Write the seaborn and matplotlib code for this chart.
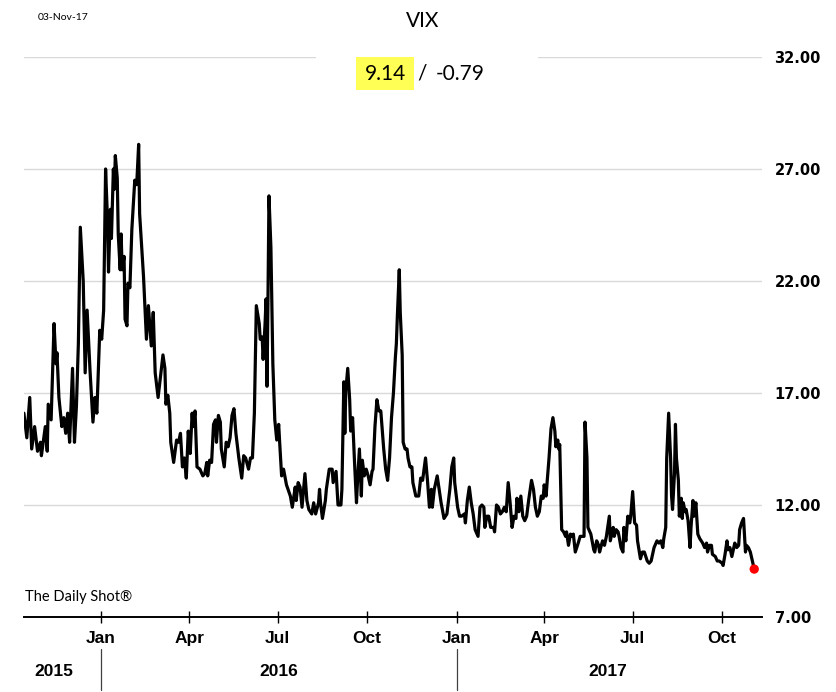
import matplotlib
matplotlib.use("Agg")
import matplotlib.pyplot as plt
import matplotlib.dates as mdates
import matplotlib.transforms as mtransforms
from matplotlib.patches import Rectangle
from matplotlib.ticker import FuncFormatter
import pandas as pd
import seaborn as sns

# ---------------- data ----------------
dates = [
    "2015-10-14", "2015-10-17", "2015-10-20", "2015-10-22", "2015-10-25", "2015-10-28", "2015-10-31", "2015-11-01",
    "2015-11-05", "2015-11-07", "2015-11-08", "2015-11-11", "2015-11-14", "2015-11-16", "2015-11-17", "2015-11-19",
    "2015-11-22", "2015-11-24", "2015-11-26", "2015-11-28", "2015-11-30", "2015-12-03", "2015-12-05", "2015-12-07",
    "2015-12-09", "2015-12-11", "2015-12-14", "2015-12-16", "2015-12-18", "2015-12-21", "2015-12-24", "2015-12-26",
    "2015-12-28", "2015-12-31", "2016-01-02", "2016-01-04", "2016-01-06", "2016-01-08", "2016-01-09", "2016-01-11",
    "2016-01-12", "2016-01-14", "2016-01-15", "2016-01-16", "2016-01-18", "2016-01-19", "2016-01-21", "2016-01-22",
    "2016-01-23", "2016-01-25", "2016-01-26", "2016-01-28", "2016-01-29", "2016-01-31", "2016-02-02", "2016-02-05",
    "2016-02-07", "2016-02-09", "2016-02-10", "2016-02-14", "2016-02-17", "2016-02-19", "2016-02-22", "2016-02-24",
    "2016-02-26", "2016-02-29", "2016-03-05", "2016-03-07", "2016-03-08", "2016-03-10", "2016-03-12", "2016-03-13",
    "2016-03-16", "2016-03-19", "2016-03-21", "2016-03-23", "2016-03-25", "2016-03-27", "2016-03-29", "2016-03-31",
    "2016-04-02", "2016-04-04", "2016-04-05", "2016-04-07", "2016-04-09", "2016-04-12", "2016-04-15", "2016-04-17",
    "2016-04-19", "2016-04-20", "2016-04-22", "2016-04-24", "2016-04-26", "2016-04-28", "2016-04-29", "2016-05-01",
    "2016-05-03", "2016-05-04", "2016-05-07", "2016-05-09", "2016-05-11", "2016-05-13", "2016-05-15", "2016-05-17",
    "2016-05-19", "2016-05-22", "2016-05-25", "2016-05-27", "2016-05-29", "2016-06-01", "2016-06-03", "2016-06-05",
    "2016-06-07", "2016-06-09", "2016-06-12", "2016-06-13", "2016-06-15", "2016-06-16", "2016-06-18", "2016-06-19",
    "2016-06-20", "2016-06-21", "2016-06-22", "2016-06-24", "2016-06-26", "2016-06-28", "2016-06-30", "2016-07-02",
    "2016-07-03", "2016-07-05", "2016-07-07", "2016-07-10", "2016-07-14", "2016-07-16", "2016-07-19", "2016-07-20",
    "2016-07-22", "2016-07-24", "2016-07-26", "2016-07-29", "2016-07-31", "2016-08-02", "2016-08-05", "2016-08-07",
    "2016-08-09", "2016-08-12", "2016-08-13", "2016-08-14", "2016-08-16", "2016-08-19", "2016-08-20", "2016-08-23",
    "2016-08-26", "2016-08-27", "2016-08-30", "2016-09-01", "2016-09-04", "2016-09-05", "2016-09-07", "2016-09-08",
    "2016-09-09", "2016-09-11", "2016-09-13", "2016-09-14", "2016-09-16", "2016-09-18", "2016-09-20", "2016-09-21",
    "2016-09-23", "2016-09-25", "2016-09-26", "2016-09-28", "2016-09-30", "2016-10-02", "2016-10-04", "2016-10-06",
    "2016-10-07", "2016-10-09", "2016-10-11", "2016-10-13", "2016-10-15", "2016-10-18", "2016-10-20", "2016-10-22",
    "2016-10-24", "2016-10-26", "2016-10-28", "2016-10-30", "2016-10-31", "2016-11-01", "2016-11-03", "2016-11-04",
    "2016-11-06", "2016-11-07", "2016-11-09", "2016-11-11", "2016-11-12", "2016-11-14", "2016-11-16", "2016-11-17",
    "2016-11-20", "2016-11-23", "2016-11-25", "2016-11-27", "2016-11-30", "2016-12-02", "2016-12-04", "2016-12-06",
    "2016-12-07", "2016-12-09", "2016-12-12", "2016-12-13", "2016-12-16", "2016-12-19", "2016-12-22", "2016-12-25",
    "2016-12-27", "2016-12-29", "2016-12-30", "2017-01-02", "2017-01-04", "2017-01-06", "2017-01-09", "2017-01-10",
    "2017-01-12", "2017-01-14", "2017-01-16", "2017-01-18", "2017-01-20", "2017-01-23", "2017-01-25", "2017-01-27",
    "2017-01-29", "2017-01-30", "2017-02-01", "2017-02-03", "2017-02-05", "2017-02-08", "2017-02-09", "2017-02-11",
    "2017-02-13", "2017-02-15", "2017-02-17", "2017-02-19", "2017-02-21", "2017-02-23", "2017-02-25", "2017-02-27",
    "2017-03-01", "2017-03-03", "2017-03-04", "2017-03-06", "2017-03-08", "2017-03-10", "2017-03-12", "2017-03-14",
    "2017-03-16", "2017-03-19", "2017-03-21", "2017-03-23", "2017-03-25", "2017-03-27", "2017-03-29", "2017-03-31",
    "2017-04-01", "2017-04-03", "2017-04-04", "2017-04-06", "2017-04-08", "2017-04-10", "2017-04-12", "2017-04-13",
    "2017-04-15", "2017-04-16", "2017-04-17", "2017-04-19", "2017-04-21", "2017-04-23", "2017-04-24", "2017-04-26",
    "2017-04-28", "2017-04-29", "2017-05-01", "2017-05-03", "2017-05-06", "2017-05-08", "2017-05-10", "2017-05-12",
    "2017-05-13", "2017-05-15", "2017-05-16", "2017-05-19", "2017-05-22", "2017-05-23", "2017-05-25", "2017-05-27",
    "2017-05-28", "2017-05-31", "2017-06-02", "2017-06-04", "2017-06-05", "2017-06-07", "2017-06-08", "2017-06-11",
    "2017-06-12", "2017-06-14", "2017-06-16", "2017-06-17", "2017-06-19", "2017-06-21", "2017-06-22", "2017-06-24",
    "2017-06-26", "2017-06-28", "2017-06-29", "2017-07-01", "2017-07-03", "2017-07-05", "2017-07-06", "2017-07-09",
    "2017-07-11", "2017-07-13", "2017-07-16", "2017-07-18", "2017-07-20", "2017-07-22", "2017-07-23", "2017-07-26",
    "2017-07-28", "2017-07-30", "2017-08-01", "2017-08-02", "2017-08-04", "2017-08-05", "2017-08-07", "2017-08-09",
    "2017-08-10", "2017-08-11", "2017-08-13", "2017-08-14", "2017-08-15", "2017-08-17", "2017-08-18", "2017-08-20",
    "2017-08-21", "2017-08-22", "2017-08-24", "2017-08-25", "2017-08-27", "2017-08-29", "2017-08-30", "2017-09-01",
    "2017-09-02", "2017-09-04", "2017-09-06", "2017-09-08", "2017-09-11", "2017-09-13", "2017-09-15", "2017-09-16",
    "2017-09-18", "2017-09-20", "2017-09-21", "2017-09-24", "2017-09-26", "2017-09-28", "2017-10-01", "2017-10-02",
    "2017-10-04", "2017-10-06", "2017-10-07", "2017-10-09", "2017-10-11", "2017-10-13", "2017-10-14", "2017-10-16",
    "2017-10-18", "2017-10-19", "2017-10-21", "2017-10-23", "2017-10-25", "2017-10-26", "2017-10-28", "2017-10-30",
    "2017-11-03",
]
vix = [
    16.1, 15.0, 16.8, 14.5, 15.5, 14.4, 14.8, 14.2,
    15.5, 14.4, 16.5, 15.8, 20.1, 18.3, 18.8, 16.8,
    15.5, 15.9, 15.2, 16.1, 14.8, 18.1, 14.8, 16.4,
    19.2, 24.4, 22.0, 17.9, 20.7, 18.0, 15.7, 16.8,
    16.1, 19.8, 19.4, 20.7, 27.0, 24.7, 22.4, 25.2,
    23.9, 27.0, 26.1, 27.6, 26.6, 24.1, 22.5, 24.1,
    22.5, 23.1, 20.3, 20.0, 21.9, 21.7, 24.3, 26.5,
    26.3, 28.1, 25.0, 22.2, 19.4, 20.9, 19.1, 20.6,
    17.9, 16.8, 18.7, 18.1, 16.5, 16.9, 16.1, 14.8,
    13.9, 14.9, 14.8, 15.2, 13.7, 14.1, 13.2, 15.3,
    14.3, 16.1, 15.5, 16.2, 13.7, 13.6, 13.3, 13.4,
    13.9, 13.3, 14.0, 13.9, 15.6, 15.8, 14.8, 16.0,
    15.7, 14.5, 13.7, 14.8, 14.6, 15.0, 16.0, 16.3,
    15.2, 14.1, 13.2, 14.2, 14.1, 13.6, 14.1, 14.1,
    16.1, 20.9, 20.1, 19.4, 19.5, 18.5, 20.1, 21.2,
    17.3, 21.3, 25.8, 23.5, 18.3, 15.8, 14.9, 15.6,
    14.8, 13.3, 13.6, 12.9, 12.4, 11.9, 12.8, 12.2,
    13.0, 12.8, 11.9, 13.4, 12.2, 11.8, 11.6, 12.1,
    11.6, 12.1, 12.7, 12.1, 11.4, 12.2, 12.7, 13.6,
    13.6, 13.0, 13.5, 12.0, 12.0, 12.7, 17.5, 15.2,
    17.1, 18.1, 16.7, 15.3, 15.9, 13.9, 12.1, 13.0,
    14.5, 12.4, 14.0, 13.3, 13.6, 13.3, 12.9, 13.5,
    13.6, 15.5, 16.7, 16.2, 16.2, 14.5, 13.6, 13.1,
    14.1, 15.9, 17.0, 18.6, 19.2, 20.4, 22.5, 20.6,
    18.7, 14.8, 14.5, 14.5, 14.1, 13.7, 13.7, 13.0,
    12.4, 12.4, 13.2, 13.1, 14.1, 13.1, 11.9, 12.7,
    11.9, 12.7, 13.3, 13.0, 12.1, 11.4, 11.6, 12.7,
    13.7, 14.1, 13.0, 11.9, 11.5, 11.5, 11.6, 11.2,
    12.2, 12.8, 12.1, 11.6, 10.9, 10.6, 11.9, 12.0,
    11.9, 11.0, 11.5, 11.5, 11.0, 11.0, 10.8, 12.0,
    11.9, 11.6, 11.7, 11.9, 11.7, 13.0, 12.1, 11.0,
    11.5, 11.4, 12.3, 11.7, 12.4, 11.5, 11.3, 11.5,
    12.2, 13.1, 12.7, 11.9, 11.5, 11.7, 12.4, 12.3,
    12.9, 12.4, 13.0, 14.1, 15.4, 15.9, 15.3, 14.6,
    14.9, 14.5, 14.7, 10.9, 10.8, 10.6, 10.8, 10.2,
    10.7, 10.6, 10.7, 9.9, 10.3, 10.6, 10.6, 10.6,
    15.7, 14.1, 11.0, 10.7, 10.0, 9.9, 10.4, 10.2,
    9.9, 10.4, 10.2, 10.6, 10.9, 11.5, 10.4, 11.0,
    10.6, 10.9, 10.8, 10.6, 10.1, 9.9, 11.0, 10.4,
    11.5, 11.2, 11.5, 12.6, 11.2, 11.1, 10.4, 9.6,
    9.9, 9.9, 9.5, 9.4, 9.5, 9.9, 10.1, 10.4,
    10.3, 10.4, 10.1, 10.5, 11.0, 14.1, 16.1, 14.1,
    12.4, 11.8, 13.4, 15.6, 14.1, 13.1, 11.5, 12.3,
    11.4, 12.1, 11.7, 11.8, 11.3, 10.1, 11.0, 12.2,
    11.5, 12.1, 10.7, 10.5, 10.3, 10.1, 10.3, 9.9,
    10.2, 10.2, 9.8, 9.7, 9.5, 9.5, 9.4, 9.3,
    9.8, 10.4, 10.0, 10.1, 9.7, 10.1, 10.3, 10.1,
    10.2, 10.9, 11.2, 11.4, 9.9, 10.2, 10.1, 9.9,
    9.14,
]
y_ticks = [7, 12, 17, 22, 27, 32]
tick_months = [1, 4, 7, 10]
year_labels = ["2015", "2016", "2017"]
last_value = "9.14"
last_change = "-0.79"
title_text = "VIX"
date_text = "03-Nov-17"
source_text = "The Daily Shot\u00ae"

df = pd.DataFrame({"date": pd.to_datetime(dates), "VIX": vix})

# ---------------- styling ----------------
sns.set_theme(style="white")
plt.rcParams["font.family"] = ["DejaVu Sans"]
NARROW = ["Liberation Sans Narrow", "Liberation Sans", "DejaVu Sans"]
LABEL_FONT = ["Lato", "DejaVu Sans"]

W, H = 836, 692
fig = plt.figure(figsize=(W / 100, H / 100), dpi=100)
fig.patch.set_facecolor("white")
ax = fig.add_axes([24 / W, 1 - 617 / H, 738 / W, 560 / H])
ax.set_facecolor("white")

sns.lineplot(data=df, x="date", y="VIX", ax=ax, color="black", linewidth=2.3, zorder=4)
ax.scatter(df["date"].iloc[-1], df["VIX"].iloc[-1], color="#ff0000", s=45, zorder=5,
           edgecolors="none")

jan16 = pd.Timestamp("2016-01-01")
ax.set_xlim(jan16 - pd.Timedelta(days=78.9), jan16 + pd.Timedelta(days=680))
ax.set_ylim(y_ticks[0], y_ticks[-1])
ax.set_xlabel("")
ax.set_ylabel("")

# grid
ax.set_yticks(y_ticks)
ax.yaxis.grid(True, color="#d9d9d9", linewidth=1.0, zorder=0)
ax.xaxis.grid(False)
ax.set_axisbelow(True)

for s in ["top", "left", "right"]:
    ax.spines[s].set_visible(False)
ax.spines["bottom"].set_color("black")
ax.spines["bottom"].set_linewidth(1.4)
ax.spines["bottom"].set_zorder(6)

# x ticks
ax.xaxis.set_major_locator(mdates.MonthLocator(bymonth=tick_months))
ax.xaxis.set_major_formatter(mdates.DateFormatter("%b"))
ax.tick_params(axis="x", bottom=True, direction="inout", length=8, width=1,
               color="black", pad=6, labelsize=12.5, labelcolor="black")
for lab in ax.get_xticklabels():
    lab.set_fontfamily(NARROW)
    lab.set_fontweight("bold")

# y ticks on right
ax.yaxis.tick_right()
ax.yaxis.set_major_formatter(FuncFormatter(lambda v, p: f"{v:.2f}"))
ax.tick_params(axis="y", right=True, length=0, pad=9, labelsize=10.5, labelcolor="black")
for lab in ax.get_yticklabels():
    lab.set_fontweight("bold")

# year labels and separators
trans = mtransforms.blended_transform_factory(ax.transData, ax.transAxes)
j16 = mdates.date2num(pd.Timestamp("2016-01-01"))
j17 = mdates.date2num(pd.Timestamp("2017-01-01"))
year_centers = [mdates.date2num(pd.Timestamp("2015-11-14")),
                mdates.date2num(pd.Timestamp("2016-07-02")),
                mdates.date2num(pd.Timestamp("2017-06-05"))]
for xc, lab in zip(year_centers, year_labels):
    ax.text(xc, -0.098, lab, transform=trans, ha="center", va="center",
            fontsize=12.5, fontweight="bold", family=NARROW, color="black")
for xv in [j16, j17]:
    ax.plot([xv, xv], [-0.058, -0.13], transform=trans, color="#404040",
            linewidth=0.9, clip_on=False)

# header texts
fig.text(423 / W, 1 - 21 / H, title_text, ha="center", va="center",
         fontsize=15, family=LABEL_FONT, color="black")
fig.text(38 / W, 1 - 18 / H, date_text, ha="left", va="center",
         fontsize=7.5, family=LABEL_FONT, color="black")
fig.text(25 / W, 1 - 597 / H, source_text, ha="left", va="center",
         fontsize=10.5, family=LABEL_FONT, color="black")

# white box hiding top gridline behind the annotation
ax.add_patch(Rectangle((316 / W, 1 - 68 / H), 222 / W, 20 / H, transform=fig.transFigure,
                       facecolor="white", edgecolor="none", zorder=7, clip_on=False))
# yellow highlight
ax.add_patch(Rectangle((356 / W, 1 - 90 / H), 58 / W, 33 / H, transform=fig.transFigure,
                       facecolor="#ffff55", edgecolor="none", zorder=8, clip_on=False))
fig.text(385 / W, 1 - 74 / H, last_value, ha="center", va="center",
         fontsize=15, family=LABEL_FONT, color="black", zorder=9)
fig.text(422 / W, 1 - 74 / H, "/", ha="center", va="center",
         fontsize=15, family=LABEL_FONT, color="black", zorder=9)
fig.text(460 / W, 1 - 74 / H, last_change, ha="center", va="center",
         fontsize=15, family=LABEL_FONT, color="black", zorder=9)

fig.savefig("out.png", dpi=100, facecolor="white")
